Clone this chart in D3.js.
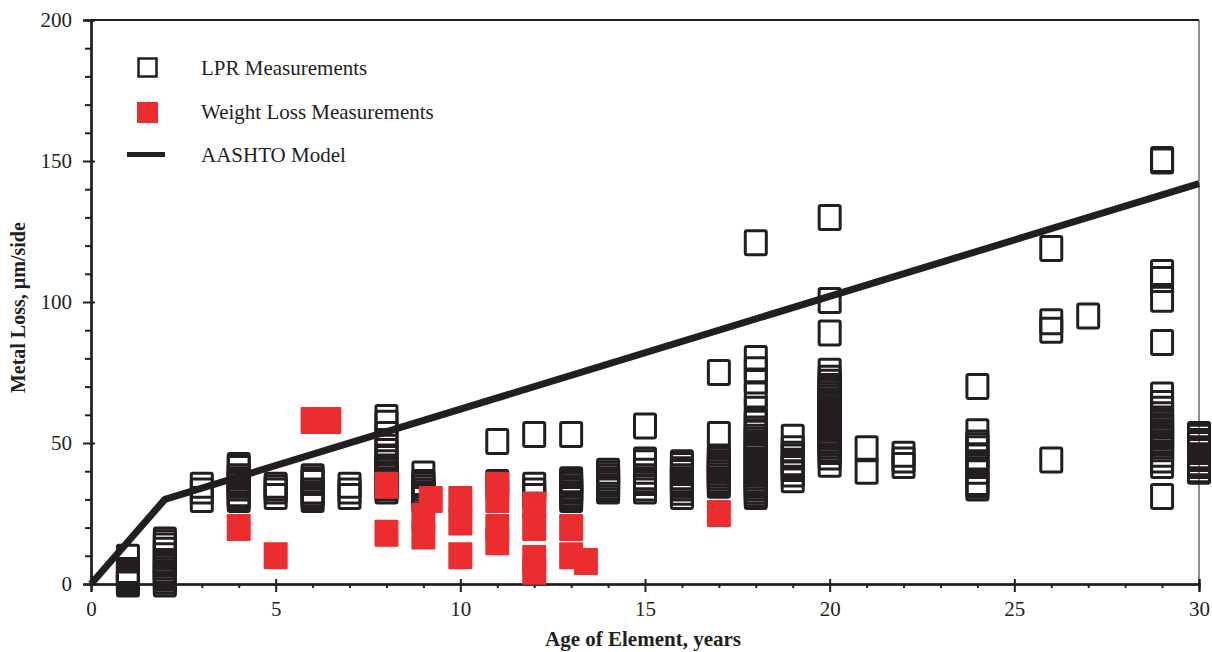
<!DOCTYPE html>
<html>
<head>
<meta charset="utf-8">
<script src="https://cdn.jsdelivr.net/npm/d3@7/dist/d3.min.js"></script>
<style>
  html, body { margin: 0; padding: 0; background: #fff; }
  svg { display: block; }
  text { font-family: "Liberation Serif", "Times New Roman", serif; fill: #231f20; }
</style>
</head>
<body>
<svg id="chart" width="1212" height="652"></svg>
<script>
// Age of element (years) for each column of LPR readings
const lprAges = [1, 2, 3, 4, 5, 6, 7, 8, 9, 11, 12, 13, 14, 15, 16, 17, 18, 19, 20, 21, 22, 24, 26, 27, 29, 30];
// Metal loss readings (µm/side) at each age above
const lprLoss = [
  [9.5, 4.8, 3.7, 2.7, 1.6, 0.5, 0],
  [15.6, 14.6, 13.5, 12, 10, 8, 7, 6, 5, 4, 3, 2, 1, 0],
  [35, 33, 30],
  [42, 41, 38, 37, 36, 35, 34, 32, 31, 30],
  [35, 34, 33, 31],
  [38, 37, 36, 33, 32, 31, 30],
  [35, 33, 31],
  [59, 57, 53, 50, 47, 45, 43, 41, 40, 39, 38, 37, 36, 35, 34, 33],
  [39, 36, 35, 34, 33, 32, 31, 30],
  [50.5, 36],
  [53, 35, 33, 31],
  [53, 37, 36, 35, 34, 33.5, 33, 32, 31, 30],
  [40, 39, 38, 37, 36.3, 35.5, 34.5, 33.5, 33],
  [56, 44, 43, 40, 38, 37, 36, 34, 33],
  [43, 42, 40.5, 39.5, 38, 37, 36, 35, 34, 32.5, 31],
  [75, 53, 45, 44, 43, 42, 41, 40, 39, 38, 37, 36, 35],
  [121, 80, 76, 72, 67, 62, 58, 57, 55, 54, 52, 51, 50, 49, 48, 47, 46, 45, 44, 43, 42, 41, 40, 39, 38, 37, 36, 35, 34, 33, 32, 31],
  [52, 48, 46, 45, 43, 42, 41, 39, 37],
  [130, 100.5, 89, 75.4, 73, 71.5, 70, 69, 68, 67, 66, 65, 64, 63, 62, 61, 60, 59, 58, 57, 56, 55, 54, 53, 52, 51, 50, 49, 48, 47, 45, 42.5],
  [48, 40],
  [46, 44, 42],
  [70, 54, 50, 49, 48, 45, 43, 42, 40, 36, 35, 34],
  [119, 93, 90, 44],
  [95],
  [150.5, 150, 110.5, 108, 101, 85.6, 67, 64, 62, 60, 58, 57, 56, 55, 54, 53, 52, 51, 50, 49, 48, 46, 44, 42, 31],
  [53, 52, 50.5, 49.5, 48, 47, 45.5, 44.5, 43, 42, 40.5, 40]
];

// Weight loss coupons
const wlAges = [4, 5, 6, 6.45, 8, 8, 9, 9, 9.2, 10, 10, 10, 11, 11, 11, 11, 12, 12, 12, 12, 13, 13, 13.4, 17];
const wlLoss = [20, 10, 58, 58, 35, 18, 24, 17, 30, 30, 22, 10, 35, 30, 20, 15, 28, 20, 9, 4.5, 20, 10, 8, 25];

// AASHTO model: 15 µm/yr for the first 2 years, 4 µm/yr after
const modelAges = [0, 2, 30];
const modelLoss = [0, 30, 142];

const xTicks = [0, 5, 10, 15, 20, 25, 30];
const yTicks = [0, 50, 100, 150, 200];
const legendLabels = ["LPR Measurements", "Weight Loss Measurements", "AASHTO Model"];

const ink = "#231f20";
const red = "#eb2d30";

const svg = d3.select("#chart");
const x = d3.scaleLinear().domain([0, 30]).range([91, 1199]);
const y = d3.scaleLinear().domain([0, 200]).range([584, 20]);

const markW = 24, markH = 27;

// frame (top and right)
svg.append("line").attr("x1", x(0)).attr("x2", x(30)).attr("y1", y(200)).attr("y2", y(200))
  .attr("stroke", ink).attr("stroke-width", 2);
svg.append("line").attr("x1", x(30)).attr("x2", x(30)).attr("y1", y(200)).attr("y2", y(0))
  .attr("stroke", ink).attr("stroke-width", 1);

// Y axis
const yAxisG = svg.append("g").attr("transform", `translate(${x(0)},0)`);
yAxisG.call(d3.axisLeft(y).tickValues(yTicks).tickSize(8).tickPadding(11).tickFormat(d3.format("d")));
yAxisG.append("g").call(d3.axisLeft(y).tickValues(yTicks).tickSize(-4).tickFormat(""));
yAxisG.append("g").call(d3.axisLeft(y).tickValues(d3.range(10, 200, 10).filter(v => v % 50 !== 0)).tickSize(6).tickFormat(""));

// X axis
const xAxisG = svg.append("g").attr("transform", `translate(0,${y(0)})`);
xAxisG.call(d3.axisBottom(x).tickValues(xTicks).tickSize(8).tickPadding(9).tickFormat(d3.format("d")));
xAxisG.append("g").call(d3.axisBottom(x).tickValues(xTicks).tickSize(-5).tickFormat(""));
xAxisG.append("g").call(d3.axisBottom(x).tickValues(d3.range(1, 30).filter(v => v % 5 !== 0)).tickSize(4).tickFormat(""));

svg.selectAll(".domain").attr("stroke", ink).attr("stroke-width", 2);
svg.selectAll(".tick line").attr("stroke", ink).attr("stroke-width", 2);
svg.selectAll(".tick text").attr("font-size", 21).attr("font-family", "Liberation Serif").attr("fill", ink);

// axis titles
svg.append("text").attr("x", 643).attr("y", 646).attr("text-anchor", "middle")
  .attr("font-size", 21).attr("font-weight", "bold").text("Age of Element, years");
svg.append("text").attr("transform", `translate(25,${y(98)}) rotate(-90)`).attr("text-anchor", "middle")
  .attr("font-size", 20).attr("font-weight", "bold").text("Metal Loss, µm/side");

// LPR markers: open squares
const lprPoints = lprAges.flatMap((a, i) => lprLoss[i].map(v => [a, v]));
svg.append("g").selectAll("rect").data(lprPoints).join("rect")
  .attr("x", d => x(d[0]) - (markW - 3) / 2)
  .attr("y", d => y(d[1]) - (markH - 3) / 2)
  .attr("width", markW - 3).attr("height", markH - 3).attr("rx", 1.5)
  .attr("fill", "none").attr("stroke", ink).attr("stroke-width", 3);

// AASHTO model line
svg.append("path")
  .datum(modelAges.map((a, i) => [a, modelLoss[i]]))
  .attr("d", d3.line().x(d => x(d[0])).y(d => y(d[1])))
  .attr("fill", "none").attr("stroke", ink).attr("stroke-width", 7).attr("stroke-linejoin", "round");

// Weight loss markers: filled red squares
svg.append("g").selectAll("rect").data(wlAges.map((a, i) => [a, wlLoss[i]])).join("rect")
  .attr("x", d => x(d[0]) - markW / 2)
  .attr("y", d => y(d[1]) - markH / 2)
  .attr("width", markW).attr("height", markH).attr("rx", 1)
  .attr("fill", red);

// legend
const lg = svg.append("g");
lg.append("rect").attr("x", 138.5).attr("y", 58.5).attr("width", 18).attr("height", 18)
  .attr("fill", "none").attr("stroke", ink).attr("stroke-width", 2.5);
lg.append("rect").attr("x", 137).attr("y", 102).attr("width", 21).attr("height", 21).attr("fill", red);
lg.append("line").attr("x1", 127).attr("x2", 165).attr("y1", 154.5).attr("y2", 154.5)
  .attr("stroke", ink).attr("stroke-width", 5);
lg.selectAll("text.lbl").data(legendLabels).join("text").attr("class", "lbl")
  .attr("x", 201).attr("y", (d, i) => 75 + i * 43.5)
  .attr("font-size", 21).text(d => d);
</script>
</body>
</html>
